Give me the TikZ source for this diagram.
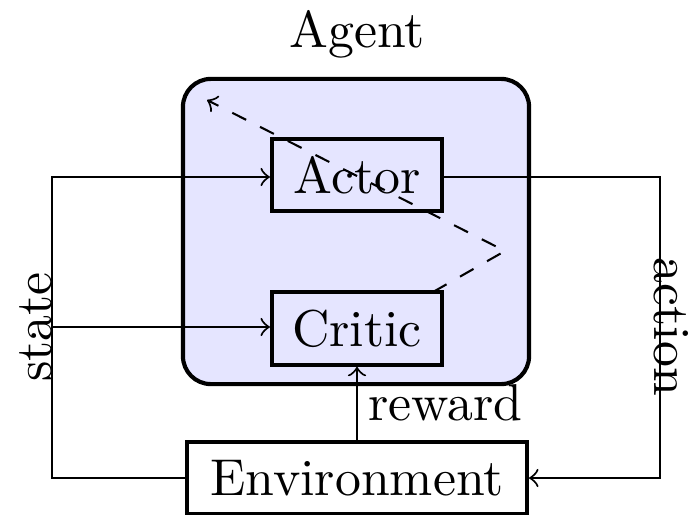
\documentclass[tikz,border=0pt]{standalone}
\usetikzlibrary{arrows}
\begin{document}
\begin{tikzpicture}[x=0.193pt,y=-0.193pt,
  box/.style={draw,thick,rectangle,minimum height=14pt,inner sep=0pt},
  agentbox/.style={draw,thick,rectangle,rounded corners=5.4pt,fill=blue!10,
    minimum width=66.8pt,minimum height=58.9pt,inner sep=0pt},
  sidelabel/.style={anchor=base,inner sep=0pt},
  link/.style={->}]
  \useasboundingbox (0,0) rectangle (691,515);

  % agent and its two parts
  \node[agentbox] (agent) at (356,231.5) {};
  \node (agentlabel) at (357,34) {Agent};
  \node[box,minimum width=32.8pt] (actor) at (357,175) {Actor};
  \node[box,minimum width=32.8pt] (critic) at (357,328.5) {Critic};
  \node[box,minimum width=65.6pt] (env) at (357,478) {Environment};

  % turning points of the outer loop
  \coordinate (sbot) at (52,478);
  \coordinate (stop) at (52,177);
  \coordinate (smid) at (52,327);
  \coordinate (atop) at (660,177);
  \coordinate (abot) at (660,478);

  % state: environment to actor and critic
  \draw[link] (env.west) -- (sbot) -- (stop) -- (stop -| actor.west);
  \draw[link] (smid) -- (smid -| critic.west);
  \node[sidelabel,rotate=90] (statelabel) at (52,327) {state};

  % action: actor to environment
  \draw[link] (actor.east |- atop) -- (atop) -- (abot) -- (env.east);
  \node[sidelabel,rotate=-90] (actionlabel) at (654,327) {action};

  % reward: environment to critic
  \draw[link] (env.north) -- node[right,inner sep=2pt] {reward} (critic.south);

  % critic feedback to actor
  \coordinate (dstart) at (433,292);
  \coordinate (dmid) at (505,251);
  \coordinate (dend) at (207,100);
  \draw[link,dashed] (dstart) -- (dmid) -- (dend);
\end{tikzpicture}
\end{document}
